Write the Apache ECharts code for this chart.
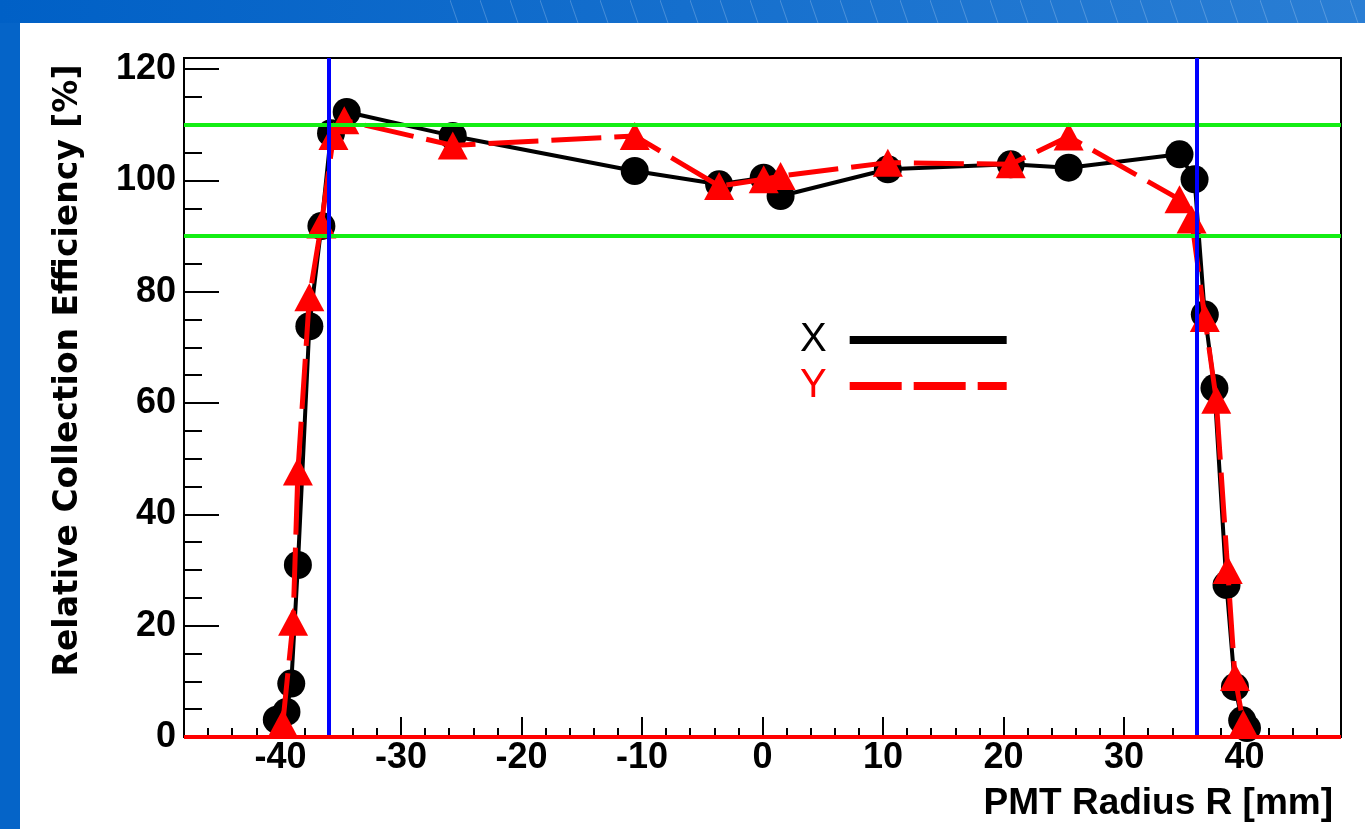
<!DOCTYPE html>
<html>
<head>
<meta charset="utf-8">
<script src="https://cdn.jsdelivr.net/npm/echarts@6/dist/echarts.min.js"></script>
<style>
html,body{margin:0;padding:0;background:#0564c8;}
#chart{width:1365px;height:829px;}
</style>
</head>
<body>
<div id="chart"></div>
<script>
// ---- data ----
const seriesNames = ['X', 'Y'];
const radiusX = [-40.3, -39.5, -39.1, -38.55, -37.6, -36.6, -35.8, -34.5, -25.7, -10.6, -3.6, 0.1, 1.5, 10.4, 20.6, 25.4, 34.6, 35.85, 36.7, 37.5, 38.5, 39.2, 39.8, 40.2];
const effX    = [3.1, 4.5, 9.6, 30.9, 73.8, 91.8, 108.5, 112.3, 108.0, 101.7, 99.3, 100.5, 97.2, 102.0, 102.9, 102.3, 104.7, 100.2, 75.9, 62.7, 27.3, 9.0, 3.0, 1.6];
const radiusY = [-39.8, -38.95, -38.55, -37.6, -36.6, -35.6, -34.7, -25.7, -10.6, -3.6, 0.1, 1.5, 10.4, 20.6, 25.4, 34.6, 35.6, 36.7, 37.65, 38.6, 39.2, 39.9];
const effY    = [2.5, 20.7, 47.7, 79.0, 92.1, 108.0, 110.8, 106.3, 108.0, 99.0, 100.2, 100.8, 103.2, 102.9, 107.9, 96.6, 93.0, 75.3, 60.6, 30.0, 10.8, 2.4];
const xMajorTicks = [-40, -30, -20, -10, 0, 10, 20, 30, 40];
const yMajorTicks = [0, 20, 40, 60, 80, 100, 120];
const acceptanceBand = [90, 110];
const activeEdges = [-36, 36];
const baseline = [0];
const xTitle = 'PMT Radius R [mm]';
const yTitle = 'Relative Collection Efficiency [%]';

// ---- chart ----
const FONT = "'Liberation Sans', Arial, Helvetica, sans-serif";
const chart = echarts.init(document.getElementById('chart'), null, {renderer: 'canvas'});

const stripe = document.createElement('canvas');
stripe.width = 30; stripe.height = 23;
const sg = stripe.getContext('2d');
sg.strokeStyle = 'rgba(255,255,255,0.22)';
sg.lineWidth = 1;
sg.beginPath(); sg.moveTo(0, 0); sg.lineTo(8, 23); sg.stroke();

const markData = [];
acceptanceBand.forEach(v => markData.push({yAxis: v, lineStyle: {color: '#14ee14', width: 4, type: 'solid'}}));
activeEdges.forEach(v => markData.push({xAxis: v, lineStyle: {color: '#0000ff', width: 4, type: 'solid'}}));
baseline.forEach(v => markData.push({yAxis: v, lineStyle: {color: '#ff0000', width: 4, type: 'solid'}}));

const gridBox = {left: 184, top: 58, right: 24, bottom: 92};

const option = {
  animation: false,
  backgroundColor: '#0564c8',
  graphic: [
    {type: 'rect', z: -20, silent: true, shape: {x: 0, y: 0, width: 1365, height: 23},
     style: {fill: new echarts.graphic.LinearGradient(0, 0, 1, 0, [{offset: 0, color: '#0060c6'}, {offset: 1, color: '#2a7ed4'}])}},
    {type: 'rect', z: -19, silent: true, shape: {x: 430, y: 0, width: 935, height: 23},
     style: {fill: {image: stripe, repeat: 'repeat'}}},
    {type: 'rect', z: -18, silent: true, shape: {x: 20, y: 23, width: 1345, height: 806}, style: {fill: '#ffffff'}}
  ],
  grid: [
    Object.assign({show: true, borderColor: '#000', borderWidth: 2, backgroundColor: '#fff'}, gridBox),
    Object.assign({show: false}, gridBox)
  ],
  legend: {
    orient: 'vertical', align: 'right', left: 795, top: 315,
    itemWidth: 157, itemHeight: 14, itemGap: 6, selectedMode: false,
    textStyle: {fontFamily: FONT, fontSize: 40, lineHeight: 40, color: '#000', padding: [0, 18, 0, 0]},
    data: [
      {name: seriesNames[0], itemStyle: {opacity: 0}, lineStyle: {width: 8, color: '#000', type: 'solid'}},
      {name: seriesNames[1], itemStyle: {opacity: 0}, lineStyle: {width: 8, color: '#ff0000', type: [52, 12]}, textStyle: {color: '#ff0000'}}
    ]
  },
  xAxis: [
    {gridIndex: 0, type: 'value', min: -48, max: 48, interval: 2,
     axisLine: {show: true, onZero: false, lineStyle: {color: '#000', width: 2}},
     axisTick: {show: true, inside: true, length: 9, lineStyle: {color: '#000', width: 2}},
     axisLabel: {show: false}, splitLine: {show: false}},
    {gridIndex: 1, type: 'value', min: -48, max: 48,
     axisLine: {show: false, onZero: false},
     axisTick: {show: true, inside: true, length: 20, customValues: xMajorTicks, lineStyle: {color: '#000', width: 2}},
     axisLabel: {show: true, customValues: xMajorTicks, margin: 3, fontFamily: FONT, fontWeight: 'bold', fontSize: 36, color: '#000'},
     splitLine: {show: false},
     name: xTitle, nameLocation: 'end', nameGap: -8,
     nameTextStyle: {fontFamily: FONT, fontWeight: 'bold', fontSize: 37, color: '#000', align: 'right', verticalAlign: 'top', padding: [48, 0, 0, 0]}}
  ],
  yAxis: [
    {gridIndex: 0, type: 'value', min: 0, max: 122, interval: 5,
     axisLine: {show: true, onZero: false, lineStyle: {color: '#000', width: 2}},
     axisTick: {show: true, inside: true, length: 18, lineStyle: {color: '#000', width: 2}},
     axisLabel: {show: false}, splitLine: {show: false}},
    {gridIndex: 1, type: 'value', min: 0, max: 122,
     axisLine: {show: false, onZero: false},
     axisTick: {show: true, inside: true, length: 35, customValues: yMajorTicks, lineStyle: {color: '#000', width: 2}},
     axisLabel: {show: true, customValues: yMajorTicks, margin: 8, fontFamily: FONT, fontWeight: 'bold', fontSize: 36, color: '#000'},
     splitLine: {show: false},
     name: yTitle, nameLocation: 'middle', nameGap: 116, nameRotate: 90,
     nameTextStyle: {fontFamily: "'DejaVu Sans', sans-serif", fontWeight: 'bold', fontSize: 33, color: '#000', align: 'center', verticalAlign: 'middle', padding: [0, 0, 0, 54]}}
  ],
  series: [
    {name: seriesNames[0], type: 'line', xAxisIndex: 0, yAxisIndex: 0, z: 3,
     data: radiusX.map((r, i) => [r, effX[i]]),
     symbol: 'circle', symbolSize: 28, showAllSymbol: true,
     itemStyle: {color: '#000'}, lineStyle: {color: '#000', width: 4}, emphasis: {disabled: true}},
    {name: seriesNames[1], type: 'line', xAxisIndex: 0, yAxisIndex: 0, z: 4,
     data: radiusY.map((r, i) => [r, effY[i]]),
     symbol: 'triangle', symbolSize: [30, 28], showAllSymbol: true,
     itemStyle: {color: '#ff0000'}, lineStyle: {color: '#ff0000', width: 5, type: [50, 13]}, emphasis: {disabled: true}},
    {name: 'guides', type: 'line', xAxisIndex: 0, yAxisIndex: 0, z: 6, data: [],
     markLine: {silent: true, symbol: ['none', 'none'], label: {show: false}, emphasis: {disabled: true}, data: markData}}
  ]
};
chart.setOption(option);
</script>
</body>
</html>
